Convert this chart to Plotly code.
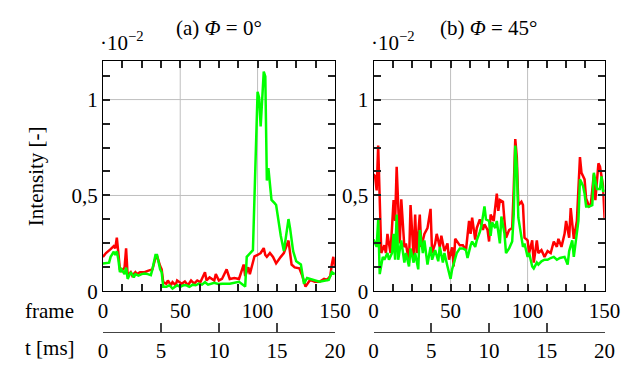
import plotly.graph_objects as go

FONT = "'Liberation Serif', 'Times New Roman', serif"
W, H = 630, 366

# ---- data (intensity in units of 10^-2) ----
frames_a_red = [0, 2, 5, 7, 8, 9, 10, 11, 12, 14, 15, 16, 18, 19, 21, 22, 24, 27, 29, 31, 32, 34, 35, 37, 38,
                39, 41, 42, 44, 45, 47, 48, 51, 53, 55, 57, 59, 61, 63, 66, 67, 69, 72, 73, 75, 77, 80, 82, 85,
                88, 91, 92, 94, 95, 98, 100, 102, 104, 105, 106, 108, 110, 112, 115, 117, 120, 122, 124, 127,
                129, 131, 134, 137, 140, 143, 145, 147, 148, 149, 150]
vals_a_red = [0.18, 0.20, 0.22, 0.236, 0.224, 0.28, 0.20, 0.115, 0.107, 0.124, 0.224, 0.082, 0.10, 0.082, 0.10,
              0.09, 0.10, 0.10, 0.107, 0.112, 0.115, 0.174, 0.185, 0.132, 0.115,
              0.048, 0.04, 0.057, 0.032, 0.048, 0.032, 0.057, 0.04, 0.052, 0.032, 0.057, 0.04, 0.057, 0.048,
              0.10, 0.057, 0.073, 0.057, 0.09, 0.057, 0.065, 0.115, 0.065, 0.07,
              0.065, 0.14, 0.08, 0.126, 0.09, 0.183, 0.19, 0.20, 0.226, 0.19, 0.18, 0.20, 0.18, 0.146, 0.18,
              0.20, 0.265, 0.14, 0.125, 0.12,
              0.08, 0.025, 0.06, 0.05, 0.05, 0.065, 0.06, 0.08, 0.14, 0.18, 0.13]

frames_a_green = [0, 1, 4, 5, 7, 8, 9, 10, 11, 12, 14, 15, 16, 18, 20, 21, 23, 25, 27, 29, 31, 32, 34, 35, 37,
                  38, 39, 41, 43, 45, 48, 50, 52, 54, 56, 58, 60, 62, 64, 66, 68, 72, 75, 77, 82, 88, 91, 92,
                  93, 95, 97, 100, 101, 102, 104, 105, 106, 107, 108, 109, 111, 112, 115, 117, 120, 121, 123,
                  125, 128, 130, 132, 136, 140, 146, 148, 150]
vals_a_green = [0.145, 0.146, 0.15, 0.18, 0.207, 0.19, 0.21, 0.166, 0.10, 0.115, 0.09, 0.124, 0.065, 0.10,
                0.073, 0.09, 0.082, 0.09, 0.093, 0.09, 0.085, 0.115, 0.19, 0.19, 0.115,
                0.10, 0.024, 0.024, 0.032, 0.015, 0.032, 0.024, 0.032, 0.032, 0.024, 0.035, 0.032, 0.04, 0.035,
                0.048, 0.035, 0.045, 0.038, 0.04, 0.04, 0.05, 0.03, 0.025,
                0.18, 0.20, 0.215, 1.04, 1.01, 0.86, 1.146, 1.12, 0.578, 0.643, 0.57, 0.477, 0.46, 0.45, 0.29,
                0.21, 0.377, 0.33, 0.21,
                0.157, 0.14, 0.04, 0.07, 0.06, 0.05, 0.06, 0.10, 0.09]

frames_b_red = [0, 1, 2, 3, 5, 7, 8, 9, 11, 13, 14, 15, 17, 18, 20, 21, 23, 24, 26, 27, 28, 30, 31, 33, 35,
                37, 38, 40, 41, 43, 44, 46, 48, 49, 51, 52, 53, 55, 56, 58, 60, 62, 63, 64, 66, 67, 69, 71,
                72, 74, 75, 76, 78, 80, 81, 82, 84, 85, 86, 88, 90, 91, 92, 93, 94, 96, 97, 98, 100, 101,
                103, 104, 106, 107, 109, 111, 113, 115, 117, 119, 120, 122, 124, 125, 127, 128, 130, 132,
                133, 134, 135, 137, 138, 140, 141, 143, 144, 146, 147, 148, 149, 150]
vals_b_red = [0.61, 0.60, 0.526, 0.76, 0.20, 0.241, 0.20, 0.30, 0.20, 0.476, 0.367, 0.65, 0.25, 0.48, 0.23,
              0.25, 0.15, 0.45, 0.18, 0.40, 0.20, 0.40, 0.232, 0.30, 0.33,
              0.43, 0.20, 0.25, 0.30, 0.23, 0.29, 0.21, 0.25, 0.165, 0.23, 0.13, 0.274, 0.25, 0.24, 0.24,
              0.215, 0.367, 0.30, 0.384, 0.27, 0.33, 0.375, 0.32,
              0.35, 0.32, 0.26, 0.40, 0.367, 0.51, 0.42, 0.476, 0.467, 0.367, 0.28, 0.32, 0.33, 0.534, 0.794,
              0.70, 0.45, 0.467, 0.45, 0.28, 0.266, 0.20,
              0.266, 0.15, 0.266, 0.20, 0.215, 0.18, 0.21, 0.20, 0.26, 0.232, 0.274, 0.232, 0.30, 0.367,
              0.28, 0.434, 0.274, 0.367,
              0.51, 0.70, 0.618, 0.584, 0.484, 0.443, 0.45, 0.61, 0.476, 0.668, 0.65, 0.60, 0.55, 0.38]

frames_b_green = [0, 2, 3, 4, 6, 7, 9, 10, 12, 13, 14, 15, 16, 18, 20, 21, 23, 24, 26, 27, 29, 30, 32, 33, 35,
                  37, 38, 40, 42, 43, 45, 46, 48, 50, 51, 53, 54, 56, 58, 60, 61, 63, 64, 66, 67, 69, 70, 72,
                  73, 75, 76, 77, 79, 80, 82, 83, 85, 86, 88, 90, 91, 92, 93, 94, 96, 97, 98, 100, 101, 103,
                  104, 106, 107, 109, 111, 113, 115, 117, 119, 121, 124, 126, 127, 129, 130, 132, 133, 134,
                  136, 137, 138, 140, 142, 143, 145, 147, 148, 149, 150]
vals_b_green = [0.27, 0.232, 0.375, 0.09, 0.18, 0.165, 0.20, 0.165, 0.20, 0.30, 0.165, 0.40, 0.165, 0.266,
                0.15, 0.20, 0.13, 0.224, 0.15, 0.20, 0.115, 0.32, 0.20, 0.266, 0.14,
                0.232, 0.165, 0.215, 0.157, 0.232, 0.15, 0.20, 0.13, 0.065, 0.115, 0.165, 0.20, 0.224, 0.224,
                0.215, 0.174, 0.24, 0.26, 0.232, 0.266, 0.31, 0.34, 0.443,
                0.375, 0.367, 0.29, 0.36, 0.33, 0.367, 0.25, 0.39, 0.30, 0.20, 0.224, 0.26, 0.40, 0.76, 0.65,
                0.384, 0.266, 0.232, 0.25, 0.18, 0.20, 0.13,
                0.12, 0.15, 0.14, 0.157, 0.165, 0.165, 0.174, 0.18, 0.165, 0.174, 0.18, 0.14, 0.21, 0.266,
                0.18, 0.30, 0.367, 0.584,
                0.55, 0.51, 0.443, 0.443, 0.45, 0.618, 0.534, 0.534, 0.60, 0.52, 0.53]

frame_range = [0, 150]
time_range = [0, 20]
y_range = [0, 1.2]
frame_tick_vals = [0, 12.5, 25, 37.5, 50, 62.5, 75, 87.5, 100, 112.5, 125, 137.5, 150]
frame_tick_text = ["0", "", "", "", "50", "", "", "", "100", "", "", "", "150"]
frame_grid = [50, 100]
y_tick_vals = [0, 0.125, 0.25, 0.375, 0.5, 0.625, 0.75, 0.875, 1.0, 1.125]
y_tick_text = ["0", "", "", "", "0,5", "", "", "", "1", ""]
y_grid = [0.5, 1.0]
time_tick_vals = [0, 5, 10, 15, 20]
titles = ["(a) <i>Φ</i> = 0°", "(b) <i>Φ</i> = 45°"]

RED = "#ff0000"
GREEN = "#00ff00"
AXC = "#000000"
TICKC = "#222222"
GRIDC = "#bfbfbf"
FS = 21


def px(p):
    return p / W


def py(p):
    return 1 - p / H


dom_x = [(px(93), px(333)), (px(373), px(612))]
dom_y = (py(293), py(55))
dom_t = (py(335), py(320))   # thin invisible strip holding the time axes

fig = go.Figure()
line_w = 2.5
fig.add_trace(go.Scatter(x=frames_a_red, y=vals_a_red, mode="lines", line=dict(color=RED, width=line_w),
                         xaxis="x", yaxis="y", showlegend=False))
fig.add_trace(go.Scatter(x=frames_a_green, y=vals_a_green, mode="lines", line=dict(color=GREEN, width=line_w),
                         xaxis="x", yaxis="y", showlegend=False))
fig.add_trace(go.Scatter(x=frames_b_red, y=vals_b_red, mode="lines", line=dict(color=RED, width=line_w),
                         xaxis="x2", yaxis="y2", showlegend=False))
fig.add_trace(go.Scatter(x=frames_b_green, y=vals_b_green, mode="lines", line=dict(color=GREEN, width=line_w),
                         xaxis="x2", yaxis="y2", showlegend=False))
# invisible carriers for the time axes
fig.add_trace(go.Scatter(x=time_range, y=[0, 0], mode="markers", marker=dict(opacity=0),
                         xaxis="x3", yaxis="y3", showlegend=False, hoverinfo="skip"))
fig.add_trace(go.Scatter(x=time_range, y=[0, 0], mode="markers", marker=dict(opacity=0),
                         xaxis="x4", yaxis="y4", showlegend=False, hoverinfo="skip"))

tickfont = dict(family=FONT, size=FS, color="#000")


def frame_axis(dom, anchor):
    return dict(domain=list(dom), anchor=anchor, range=frame_range, tickmode="array",
                tickvals=frame_tick_vals, ticktext=frame_tick_text,
                ticks="inside", ticklen=7, tickwidth=1.5, tickcolor=TICKC, showline=True, linecolor=AXC,
                linewidth=1, mirror="ticks", showgrid=False, zeroline=False,
                tickfont=tickfont)


def y_axis(anchor, title):
    return dict(domain=list(dom_y), anchor=anchor, range=y_range, tickmode="array",
                tickvals=y_tick_vals, ticktext=y_tick_text,
                ticks="inside", ticklen=7, tickwidth=1.5, tickcolor=TICKC, showline=True, linecolor=AXC,
                linewidth=1, mirror="ticks", showgrid=False, zeroline=False,
                tickfont=tickfont,
                title=dict(text=title, font=dict(family=FONT, size=FS, color="#000"), standoff=22))


def time_axis(dom, anchor):
    return dict(domain=list(dom), anchor=anchor, range=time_range, tickmode="array",
                tickvals=time_tick_vals, ticks="inside", ticklen=9, tickwidth=1.5, tickcolor="#444444",
                showline=True, linecolor="#444444", linewidth=1, showgrid=False, zeroline=False,
                tickfont=tickfont)


def strip_axis(anchor):
    return dict(domain=list(dom_t), anchor=anchor, range=[0, 1], showticklabels=False, showline=False,
                showgrid=False, zeroline=False, ticks="")


fig.update_layout(
    width=W, height=H, margin=dict(l=0, r=0, t=0, b=0),
    paper_bgcolor="white", plot_bgcolor="white", separators=",.",
    font=dict(family=FONT, size=FS, color="#000"),
    xaxis=frame_axis(dom_x[0], "y"),
    xaxis2=frame_axis(dom_x[1], "y2"),
    xaxis3=time_axis(dom_x[0], "y3"),
    xaxis4=time_axis(dom_x[1], "y4"),
    yaxis=y_axis("x", "Intensity [-]"),
    yaxis2=y_axis("x2", ""),
    yaxis3=strip_axis("x3"),
    yaxis4=strip_axis("x4"),
)

# grid lines at the major tick values, placed through the axes' own scales
shapes = []
for xr, yr in (("x", "y"), ("x2", "y2")):
    for g in frame_grid:
        shapes.append(dict(type="line", xref=xr, yref=yr + " domain", x0=g, x1=g, y0=0, y1=1,
                           line=dict(color=GRIDC, width=1), layer="below"))
    for g in y_grid:
        shapes.append(dict(type="line", xref=xr + " domain", yref=yr, x0=0, x1=1, y0=g, y1=g,
                           line=dict(color=GRIDC, width=1), layer="below"))
fig.update_layout(shapes=shapes)

annots = []
for i, (x0, x1) in enumerate(dom_x):
    annots.append(dict(text=titles[i], x=(x0 + x1) / 2, y=py(21), xref="paper", yref="paper",
                       xanchor="center", yanchor="middle", showarrow=False,
                       font=dict(family=FONT, size=FS, color="#000")))
    annots.append(dict(text="·10<sup>−2</sup>", x=x0 - px(5), y=py(35), xref="paper", yref="paper",
                       xanchor="left", yanchor="middle", showarrow=False,
                       font=dict(family=FONT, size=FS, color="#000")))
annots.append(dict(text="frame", x=px(10), y=py(313), xref="paper", yref="paper", xanchor="left",
                   yanchor="middle", showarrow=False, font=dict(family=FONT, size=FS, color="#000")))
annots.append(dict(text="t [ms]", x=px(10), y=py(352), xref="paper", yref="paper", xanchor="left",
                   yanchor="middle", showarrow=False, font=dict(family=FONT, size=FS, color="#000")))
fig.update_layout(annotations=annots)

fig.write_html("out.html")
